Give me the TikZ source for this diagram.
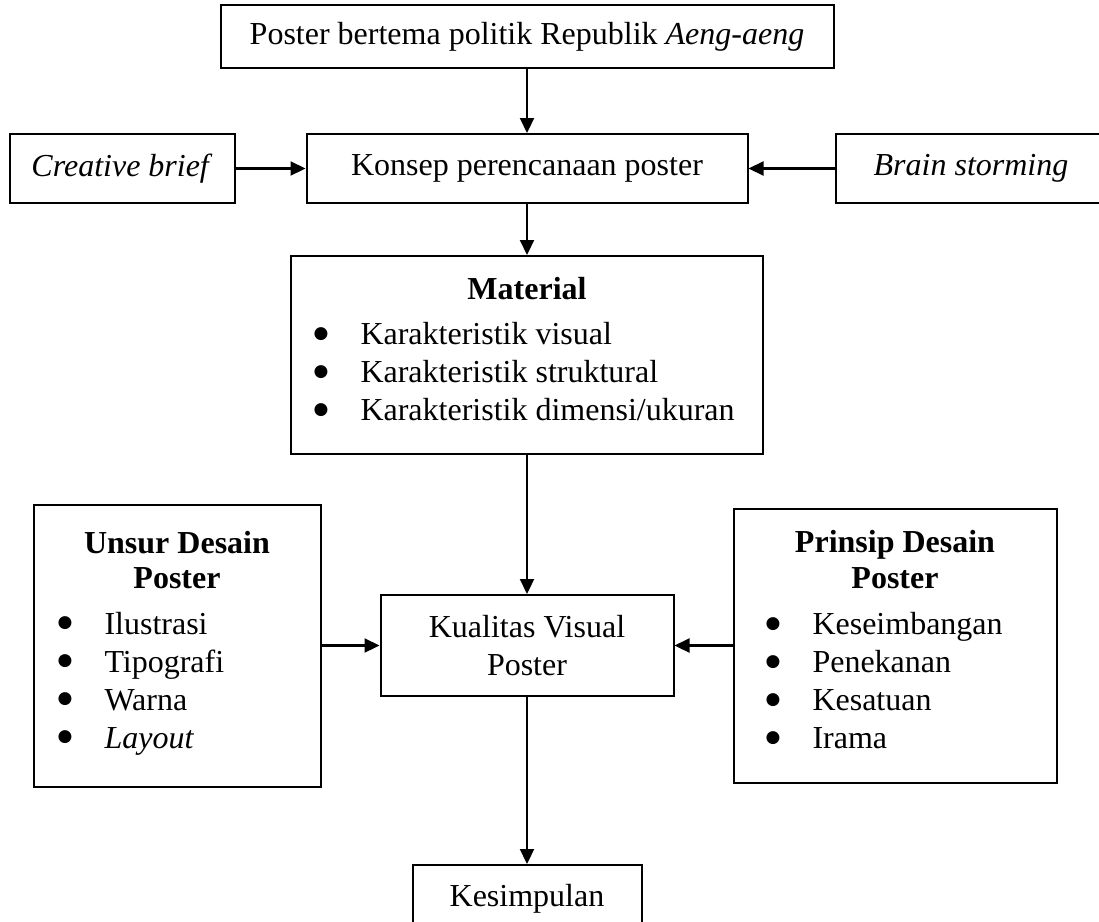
\documentclass[tikz,border=0pt]{standalone}
\usepackage{fontspec}
\setmainfont{Liberation Serif}
\newfontfamily\simbol{DejaVu Sans}
\usepackage{array}
\usetikzlibrary{arrows.meta}
\usetikzlibrary{positioning}

\newcommand{\titik}{\raisebox{6.5pt}{\fontsize{17}{17}\simbol ●}}
\newcommand{\daftar}[2]{\begin{tabular}[t]{@{}p{47pt}@{}p{#1}@{}}#2\end{tabular}}

\begin{document}
\begin{tikzpicture}[x=1pt, y=1pt,
    kotak/.style={draw, line width=2pt, align=center, inner sep=8pt,
      font=\fontsize{32}{38}\selectfont},
    panah/.style={line width=2.2pt, -{Triangle[length=15pt,width=14pt]}}]
    \useasboundingbox (0,0) rectangle (1099,-921);

    \node [kotak, minimum width=613pt, minimum height=63pt] (top) at (527,-36.5)
      {Poster bertema politik Republik \textit{Aeng-aeng}};
    \node [kotak, minimum width=441pt, minimum height=69pt, below=64pt of top] (konsep)
      {Konsep perencanaan poster};
    \node [kotak, minimum width=225pt, minimum height=69pt, left=70pt of konsep] (brief)
      {\textit{Creative brief}};
    \node [kotak, minimum width=271pt, minimum height=69pt, right=86pt of konsep] (brain)
      {\textit{Brain storming}};
    \node [kotak, minimum width=472pt, minimum height=198pt, below=51pt of konsep] (material)
      {\textbf{Material}\\[7pt]
       \daftar{380pt}{\titik & Karakteristik visual\\
                      \titik & Karakteristik struktural\\
                      \titik & Karakteristik dimensi/ukuran}};
    \node [kotak, minimum width=293pt, minimum height=101pt, below=139pt of material] (kualitas)
      {Kualitas Visual\\Poster};
    \node [kotak, minimum width=287pt, minimum height=282pt, left=58pt of kualitas] (unsur)
      {\textbf{Unsur Desain}\\[-3pt]\textbf{Poster}\\[8pt]
       \daftar{192pt}{\titik & Ilustrasi\\
                      \titik & Tipografi\\
                      \titik & Warna\\
                      \titik & \textit{Layout}}};
    \node [kotak, minimum width=323pt, minimum height=274pt, right=58pt of kualitas] (prinsip)
      {\textbf{Prinsip Desain}\\[-2pt]\textbf{Poster}\\[8pt]
       \daftar{212pt}{\titik & Keseimbangan\\
                      \titik & Penekanan\\
                      \titik & Kesatuan\\
                      \titik & Irama}};
    \node [kotak, minimum width=229pt, minimum height=68pt, below=167pt of kualitas] (simpul)
      {Kesimpulan};

    \draw [panah] (top.south) -- (konsep.north);
    \draw [panah] (brief.east) -- (konsep.west);
    \draw [panah] (brain.west) -- (konsep.east);
    \draw [panah] (konsep.south) -- (material.north);
    \draw [panah] (material.south) -- (kualitas.north);
    \draw [panah] (unsur.east) -- (kualitas.west);
    \draw [panah] (prinsip.west) -- (kualitas.east);
    \draw [panah] (kualitas.south) -- (simpul.north);
\end{tikzpicture}
\end{document}
